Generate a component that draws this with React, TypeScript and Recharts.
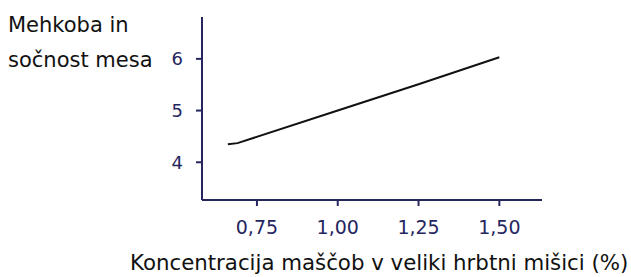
import { LineChart, Line, XAxis, YAxis } from "recharts";

const fatPct = [0.66, 0.69, 1.0, 1.25, 1.5];
const tenderness = [4.35, 4.37, 5.0, 5.51, 6.03];
const xTicks = [0.75, 1.0, 1.25, 1.5];
const yTicks = [4, 5, 6];

const data = fatPct.map((x, i) => ({ x, y: tenderness[i] }));

const NAVY = "#26265f";
const FONT = "'DejaVu Sans', Verdana, sans-serif";

const fmt = (v: number) => v.toFixed(2).replace(".", ",");

export default function App() {
  return (
    <div style={{ position: "absolute", left: 0, top: 0, width: 631, height: 277, background: "#fff", fontFamily: FONT }}>
      <LineChart width={631} height={277} data={data} margin={{ top: 17, right: 89, bottom: 0, left: 0 }}>
        <XAxis
          dataKey="x"
          type="number"
          domain={[0.58, 1.632]}
          ticks={xTicks}
          tickFormatter={fmt}
          tickSize={6}
          tickMargin={15}
          height={77}
          axisLine={{ stroke: NAVY, strokeWidth: 2 }}
          tickLine={{ stroke: NAVY, strokeWidth: 2 }}
          tick={{ fill: NAVY, fontSize: 19, fontFamily: FONT }}
          allowDataOverflow
        />
        <YAxis
          type="number"
          domain={[3.27, 6.81]}
          ticks={yTicks}
          width={202}
          tickSize={6}
          tickMargin={13}
          axisLine={{ stroke: NAVY, strokeWidth: 2 }}
          tickLine={{ stroke: NAVY, strokeWidth: 2 }}
          tick={{ fill: NAVY, fontSize: 18, fontFamily: FONT }}
          allowDataOverflow
        />
        <Line
          dataKey="y"
          type="linear"
          stroke="#111"
          strokeWidth={2}
          dot={false}
          isAnimationActive={false}
        />
      </LineChart>
      <div style={{ position: "absolute", left: 8, top: 7.6, fontSize: 21, lineHeight: "35px", color: "#111" }}>
        Mehkoba in
        <br />
        sočnost mesa
      </div>
      <div style={{ position: "absolute", left: 130, top: 247.5, fontSize: 21.3, lineHeight: "30px", color: "#111", whiteSpace: "nowrap" }}>
        Koncentracija maščob v veliki hrbtni mišici (%)
      </div>
    </div>
  );
}
